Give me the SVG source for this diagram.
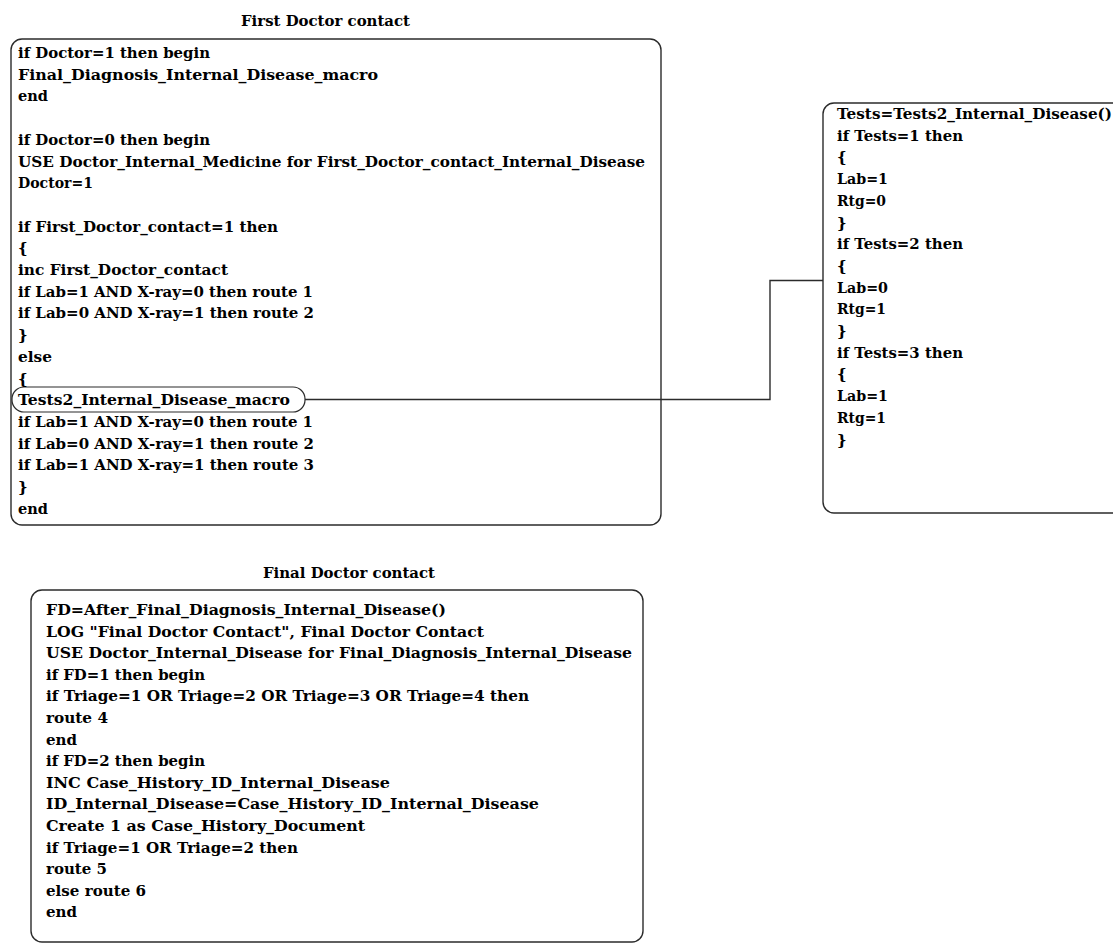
<svg xmlns="http://www.w3.org/2000/svg" width="1113" height="943" viewBox="0 0 1113 943">
  <style>
    .box { fill: #ffffff; stroke: #2b2b2b; stroke-width: 1.4; }
    .cap { fill: none; stroke: #2b2b2b; stroke-width: 1.2; }
    .wire { fill: none; stroke: #2b2b2b; stroke-width: 1.4; }
    .code { font-family: "DejaVu Serif", "Liberation Serif", serif; font-weight: bold; font-size: 15px; fill: #000000; }
    .title { font-family: "DejaVu Serif", "Liberation Serif", serif; font-weight: bold; font-size: 14.5px; fill: #000000; }
  </style>
  <rect width="1113" height="943" fill="#ffffff"/>

  <!-- First doctor contact block -->
  <g id="first-doctor-contact">
    <text class="title" x="241" y="26" textLength="169" lengthAdjust="spacingAndGlyphs">First Doctor contact</text>
    <rect class="box" x="11" y="39" width="650" height="486" rx="11" ry="11"/>
    <rect class="cap" x="12" y="387" width="293" height="25" rx="12" ry="12"/>
    <g class="code">
      <text x="18" y="58" textLength="192" lengthAdjust="spacingAndGlyphs">if Doctor=1 then begin</text>
      <text x="18" y="79.7" textLength="360" lengthAdjust="spacingAndGlyphs">Final_Diagnosis_Internal_Disease_macro</text>
      <text x="18" y="101.4" textLength="30" lengthAdjust="spacingAndGlyphs">end</text>
      <text x="18" y="144.8" textLength="192" lengthAdjust="spacingAndGlyphs">if Doctor=0 then begin</text>
      <text x="18" y="166.5" textLength="627" lengthAdjust="spacingAndGlyphs">USE Doctor_Internal_Medicine for First_Doctor_contact_Internal_Disease</text>
      <text x="18" y="188.2" textLength="75" lengthAdjust="spacingAndGlyphs">Doctor=1</text>
      <text x="18" y="231.6" textLength="260" lengthAdjust="spacingAndGlyphs">if First_Doctor_contact=1 then</text>
      <text x="18" y="253.3">{</text>
      <text x="18" y="275" textLength="210" lengthAdjust="spacingAndGlyphs">inc First_Doctor_contact</text>
      <text x="18" y="296.7" textLength="295" lengthAdjust="spacingAndGlyphs">if Lab=1 AND X-ray=0 then route 1</text>
      <text x="18" y="318.4" textLength="296" lengthAdjust="spacingAndGlyphs">if Lab=0 AND X-ray=1 then route 2</text>
      <text x="18" y="340.1">}</text>
      <text x="18" y="361.8" textLength="34" lengthAdjust="spacingAndGlyphs">else</text>
      <text x="18" y="383.5">{</text>
      <text x="18" y="405.2" textLength="272" lengthAdjust="spacingAndGlyphs">Tests2_Internal_Disease_macro</text>
      <text x="18" y="426.9" textLength="295" lengthAdjust="spacingAndGlyphs">if Lab=1 AND X-ray=0 then route 1</text>
      <text x="18" y="448.6" textLength="296" lengthAdjust="spacingAndGlyphs">if Lab=0 AND X-ray=1 then route 2</text>
      <text x="18" y="470.3" textLength="296" lengthAdjust="spacingAndGlyphs">if Lab=1 AND X-ray=1 then route 3</text>
      <text x="18" y="492">}</text>
      <text x="18" y="513.7" textLength="30" lengthAdjust="spacingAndGlyphs">end</text>
    </g>
  </g>

  <!-- Tests2 macro block -->
  <g id="tests2-macro">
    <rect class="box" x="823" y="103" width="310" height="410" rx="11" ry="11"/>
    <g class="code">
      <text x="837" y="119" textLength="275" lengthAdjust="spacingAndGlyphs">Tests=Tests2_Internal_Disease()</text>
      <text x="837" y="140.7" textLength="126" lengthAdjust="spacingAndGlyphs">if Tests=1 then</text>
      <text x="837" y="162.4">{</text>
      <text x="837" y="184.1" textLength="51" lengthAdjust="spacingAndGlyphs">Lab=1</text>
      <text x="837" y="205.8" textLength="49" lengthAdjust="spacingAndGlyphs">Rtg=0</text>
      <text x="837" y="227.5">}</text>
      <text x="837" y="249.2" textLength="126" lengthAdjust="spacingAndGlyphs">if Tests=2 then</text>
      <text x="837" y="270.9">{</text>
      <text x="837" y="292.6" textLength="51" lengthAdjust="spacingAndGlyphs">Lab=0</text>
      <text x="837" y="314.3" textLength="49" lengthAdjust="spacingAndGlyphs">Rtg=1</text>
      <text x="837" y="336">}</text>
      <text x="837" y="357.7" textLength="126" lengthAdjust="spacingAndGlyphs">if Tests=3 then</text>
      <text x="837" y="379.4">{</text>
      <text x="837" y="401.1" textLength="51" lengthAdjust="spacingAndGlyphs">Lab=1</text>
      <text x="837" y="422.8" textLength="49" lengthAdjust="spacingAndGlyphs">Rtg=1</text>
      <text x="837" y="444.5">}</text>
    </g>
  </g>

  <!-- Final doctor contact block -->
  <g id="final-doctor-contact">
    <text class="title" x="263" y="578" textLength="172" lengthAdjust="spacingAndGlyphs">Final Doctor contact</text>
    <rect class="box" x="31" y="590" width="612" height="352" rx="11" ry="11"/>
    <g class="code">
      <text x="46" y="615" textLength="400" lengthAdjust="spacingAndGlyphs">FD=After_Final_Diagnosis_Internal_Disease()</text>
      <text x="46" y="636.6" textLength="438" lengthAdjust="spacingAndGlyphs">LOG "Final Doctor Contact", Final Doctor Contact</text>
      <text x="46" y="658.2" textLength="586" lengthAdjust="spacingAndGlyphs">USE Doctor_Internal_Disease for Final_Diagnosis_Internal_Disease</text>
      <text x="46" y="679.8" textLength="159" lengthAdjust="spacingAndGlyphs">if FD=1 then begin</text>
      <text x="46" y="701.4" textLength="483" lengthAdjust="spacingAndGlyphs">if Triage=1 OR Triage=2 OR Triage=3 OR Triage=4 then</text>
      <text x="46" y="723" textLength="62" lengthAdjust="spacingAndGlyphs">route 4</text>
      <text x="46" y="744.6" textLength="31" lengthAdjust="spacingAndGlyphs">end</text>
      <text x="46" y="766.2" textLength="159" lengthAdjust="spacingAndGlyphs">if FD=2 then begin</text>
      <text x="46" y="787.8" textLength="344" lengthAdjust="spacingAndGlyphs">INC Case_History_ID_Internal_Disease</text>
      <text x="46" y="809.4" textLength="493" lengthAdjust="spacingAndGlyphs">ID_Internal_Disease=Case_History_ID_Internal_Disease</text>
      <text x="46" y="831" textLength="319" lengthAdjust="spacingAndGlyphs">Create 1 as Case_History_Document</text>
      <text x="46" y="852.6" textLength="252" lengthAdjust="spacingAndGlyphs">if Triage=1 OR Triage=2 then</text>
      <text x="46" y="874.2" textLength="61" lengthAdjust="spacingAndGlyphs">route 5</text>
      <text x="46" y="895.8" textLength="100" lengthAdjust="spacingAndGlyphs">else route 6</text>
      <text x="46" y="917.4" textLength="31" lengthAdjust="spacingAndGlyphs">end</text>
    </g>
  </g>

  <!-- Connector from the macro call to its definition -->
  <g id="connectors">
    <path class="wire" d="M305,399.5 H770 V280.5 H823"/>
  </g>
</svg>
